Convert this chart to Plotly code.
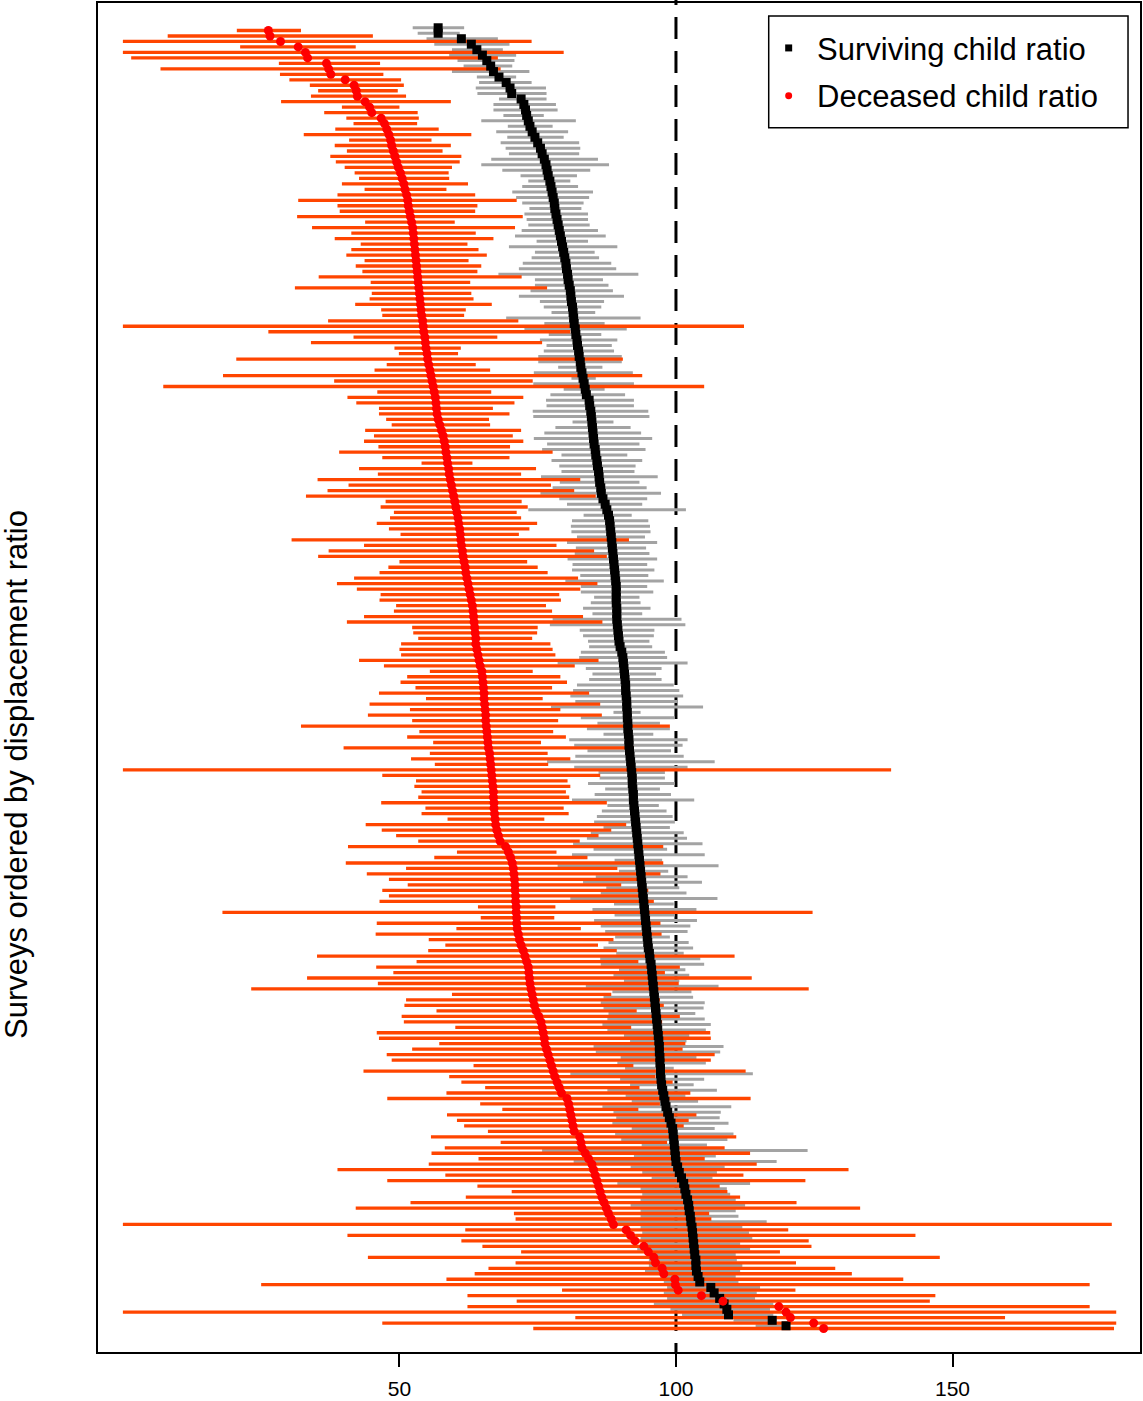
import plotly.graph_objects as go

# Surviving child ratio per survey (point estimate and interval), ordered top to bottom
surv = [57.0, 57.0, 61.2, 63.0, 64.0, 65.0, 65.8, 66.5, 67.0, 68.0, 69.3, 70.0, 70.3, 72.0, 72.5, 72.8,
        73.0, 73.3, 73.6, 74.0, 74.5, 75.0, 75.5, 75.8, 76.2, 76.5, 76.7, 76.9, 77.2, 77.4, 77.6, 77.8,
        78.0, 78.1, 78.3, 78.5, 78.7, 78.9, 79.1, 79.3, 79.5, 79.7, 79.9, 80.1, 80.2, 80.4, 80.5, 80.7,
        80.9, 81.0, 81.1, 81.3, 81.4, 81.5, 81.6, 81.8, 81.9, 82.1, 82.2, 82.4, 82.5, 82.7, 82.8, 83.0,
        83.2, 83.4, 83.6, 83.8, 84.3, 84.4, 84.6, 84.7, 84.8, 84.9, 85.0, 85.1, 85.2, 85.4, 85.5, 85.7,
        85.8, 86.0, 86.1, 86.2, 86.4, 86.5, 86.8, 87.2, 87.5, 87.8, 88.0, 88.1, 88.2, 88.3, 88.4, 88.5,
        88.6, 88.7, 88.8, 88.9, 89.0, 89.1, 89.2, 89.2, 89.2, 89.2, 89.3, 89.3, 89.3, 89.4, 89.5, 89.6,
        89.7, 89.9, 90.2, 90.4, 90.5, 90.6, 90.7, 90.8, 90.9, 90.9, 91.0, 91.1, 91.1, 91.2, 91.2, 91.3,
        91.3, 91.4, 91.5, 91.5, 91.6, 91.7, 91.8, 91.9, 92.0, 92.1, 92.1, 92.2, 92.3, 92.3, 92.4, 92.5,
        92.6, 92.7, 92.8, 92.9, 93.0, 93.1, 93.2, 93.3, 93.4, 93.5, 93.6, 93.7, 93.8, 93.9, 94.0, 94.1,
        94.2, 94.3, 94.4, 94.5, 94.6, 94.7, 94.8, 94.9, 95.0, 95.2, 95.3, 95.5, 95.6, 95.7, 95.8, 95.9,
        96.0, 96.1, 96.2, 96.3, 96.4, 96.5, 96.6, 96.7, 96.8, 96.9, 97.0, 97.0, 97.1, 97.1, 97.2, 97.2,
        97.3, 97.4, 97.6, 97.8, 98.0, 98.2, 98.5, 98.8, 99.1, 99.4, 99.5, 99.6, 99.7, 99.8, 99.9, 100.0,
        100.3, 100.6, 101.0, 101.4, 101.6, 101.8, 102.1, 102.3, 102.4, 102.6, 102.7, 102.9, 103.0, 103.1,
        103.2, 103.3, 103.4, 103.6, 103.6, 103.7, 104.0, 104.3, 106.3, 106.9, 107.9, 108.7, 109.2, 109.5,
        117.4, 119.9]

surv_lo = [52.4, 53.3, 54.9, 56.3, 59.5, 59.0, 60.5, 61.6, 59.5, 64.0, 64.4, 63.8, 64.1, 68.0, 67.0, 67.0,
           68.8, 64.8, 69.6, 67.5, 69.5, 68.3, 69.2, 69.8, 66.6, 64.8, 68.6, 71.9, 73.3, 72.2, 70.4, 71.1,
           72.2, 73.5, 72.6, 73.0, 73.3, 72.1, 70.9, 74.8, 69.8, 74.5, 73.9, 72.3, 71.6, 67.9, 74.5, 74.5,
           73.7, 71.6, 75.4, 76.1, 77.5, 69.3, 76.2, 72.6, 77.0, 75.4, 76.6, 76.1, 75.1, 75.1, 78.7, 74.3,
           81.1, 74.2, 79.7, 77.3, 76.5, 76.6, 74.1, 74.2, 81.3, 78.2, 76.2, 74.3, 76.7, 75.8, 79.3, 77.5,
           78.9, 79.3, 75.6, 79.0, 77.7, 75.5, 78.9, 80.3, 73.3, 83.3, 81.2, 81.0, 81.1, 82.1, 80.3, 81.9,
           81.7, 80.4, 81.3, 81.2, 82.7, 80.0, 82.8, 82.8, 85.2, 84.6, 83.2, 84.9, 77.7, 77.2, 82.6, 83.2,
           84.1, 84.3, 82.8, 82.5, 78.6, 83.7, 84.9, 84.3, 82.1, 81.4, 80.9, 81.8, 77.4, 88.7, 82.8, 85.8,
           83.9, 86.9, 80.7, 81.6, 84.0, 81.8, 76.7, 81.6, 86.0, 86.2, 84.1, 87.2, 85.3, 81.2, 87.6, 86.6,
           85.7, 85.2, 86.9, 84.6, 83.9, 81.4, 85.1, 81.2, 88.9, 78.6, 89.7, 85.5, 83.2, 87.4, 86.4, 80.9,
           88.8, 84.9, 88.9, 85.2, 86.4, 87.2, 89.0, 87.8, 86.9, 89.2, 86.3, 86.4, 89.7, 88.7, 90.6, 83.7,
           88.5, 86.9, 86.4, 86.9, 87.8, 87.6, 86.7, 87.6, 90.6, 91.7, 85.1, 85.5, 90.0, 89.4, 90.8, 80.9,
           89.9, 91.7, 87.6, 90.9, 92.0, 86.7, 88.7, 89.2, 88.5, 92.0, 89.0, 90.1, 93.8, 75.8, 92.4, 81.5,
           91.8, 93.9, 95.6, 89.4, 93.6, 93.9, 93.6, 91.8, 93.6, 93.6, 89.4, 93.6, 93.9, 93.6, 94.2, 93.0,
           96.0, 95.1, 95.1, 94.4, 97.2, 97.8, 98.4, 97.8, 98.4, 96.0, 99.0, 101.1, 110.4, 114.4]

surv_hi = [61.7, 60.9, 67.8, 69.9, 68.7, 71.1, 70.8, 70.4, 73.5, 71.1, 73.9, 76.5, 76.6, 76.6, 78.3, 78.6,
           76.1, 81.9, 77.7, 80.5, 79.7, 82.5, 82.7, 82.5, 85.9, 87.9, 84.5, 82.1, 80.9, 82.3, 85.0, 84.3,
           83.3, 82.9, 84.1, 84.1, 84.4, 85.9, 87.3, 84.1, 89.4, 85.3, 86.1, 88.3, 89.2, 93.2, 86.8, 87.8,
           88.6, 90.6, 87.0, 86.5, 85.4, 93.6, 87.1, 91.1, 86.5, 89.4, 88.4, 88.8, 90.2, 90.2, 86.7, 92.2,
           85.5, 92.4, 87.1, 90.8, 92.4, 92.4, 95.0, 95.2, 88.7, 91.8, 93.7, 95.7, 93.4, 94.5, 91.2, 93.9,
           92.7, 92.5, 96.7, 93.4, 94.7, 97.3, 94.8, 93.9, 101.8, 92.0, 95.0, 95.3, 95.4, 94.4, 96.6, 94.6,
           95.2, 96.6, 94.8, 96.1, 95.0, 97.8, 94.8, 95.9, 93.4, 93.6, 95.4, 93.9, 101.0, 101.7, 96.1, 96.0,
           95.2, 95.7, 98.0, 98.4, 102.1, 97.4, 96.4, 97.4, 99.6, 100.6, 101.3, 100.3, 104.9, 93.6, 99.8, 97.1,
           98.9, 95.9, 102.1, 101.2, 99.1, 101.4, 107.0, 102.1, 98.0, 98.0, 99.8, 97.1, 99.1, 103.3, 96.9, 98.3,
           99.4, 99.8, 98.9, 101.4, 102.0, 104.8, 98.4, 105.2, 97.5, 107.7, 98.6, 102.1, 104.7, 100.6, 101.9, 107.5,
           99.6, 103.7, 99.8, 103.8, 102.6, 102.1, 98.9, 102.3, 103.1, 101.4, 104.4, 105.1, 101.7, 102.4, 100.6, 107.7,
           102.8, 103.1, 105.2, 105.0, 103.5, 105.2, 106.3, 105.4, 102.4, 101.9, 108.6, 108.0, 103.7, 105.4, 99.6, 113.9,
           105.1, 103.2, 107.4, 101.7, 104.0, 110.0, 108.1, 107.9, 109.5, 107.0, 110.4, 109.3, 105.6, 123.8, 107.2, 118.2,
           108.8, 107.4, 106.6, 113.4, 109.2, 109.8, 110.8, 112.5, 110.8, 111.3, 116.4, 112.0, 113.2, 113.8, 111.6, 113.4,
           110.8, 111.0, 112.0, 111.6, 110.8, 111.3, 115.2, 114.6, 114.3, 117.6, 117.0, 117.6, 118.2, 119.4]

# Deceased child ratio per survey (point estimate and interval)
dec = [26.3, 26.6, 28.5, 31.7, 33.0, 33.4, 36.8, 37.2, 37.6, 40.2, 41.8, 42.2, 42.4, 43.8, 44.6, 45.0,
       46.7, 47.3, 47.7, 48.1, 48.4, 48.6, 48.9, 49.2, 49.5, 49.8, 50.2, 50.5, 50.8, 51.0, 51.3, 51.5,
       51.6, 51.8, 52.0, 52.2, 52.4, 52.5, 52.6, 52.7, 52.8, 52.9, 53.0, 53.1, 53.2, 53.3, 53.4, 53.5,
       53.6, 53.7, 53.8, 53.9, 54.0, 54.2, 54.3, 54.4, 54.6, 54.7, 54.8, 55.0, 55.1, 55.3, 55.5, 55.7,
       55.9, 56.1, 56.3, 56.5, 56.6, 56.7, 56.8, 57.0, 57.3, 57.6, 57.9, 58.1, 58.3, 58.4, 58.6, 58.7,
       58.9, 59.0, 59.2, 59.4, 59.6, 59.8, 60.0, 60.2, 60.4, 60.6, 60.7, 60.9, 61.0, 61.1, 61.2, 61.4,
       61.5, 61.7, 61.9, 62.0, 62.2, 62.4, 62.6, 62.8, 63.0, 63.2, 63.3, 63.4, 63.5, 63.6, 63.7, 63.8,
       63.8, 64.0, 64.2, 64.4, 64.6, 64.9, 65.0, 65.1, 65.2, 65.3, 65.3, 65.4, 65.5, 65.6, 65.6, 65.7,
       65.8, 65.9, 66.0, 66.1, 66.3, 66.4, 66.5, 66.6, 66.7, 66.8, 66.9, 67.0, 67.0, 67.1, 67.1, 67.2,
       67.3, 67.4, 67.6, 67.9, 68.2, 69.2, 69.7, 70.1, 70.4, 70.6, 70.7, 70.8, 70.9, 70.9, 71.0, 71.0,
       71.1, 71.1, 71.2, 71.2, 71.3, 71.5, 71.7, 72.0, 72.4, 72.7, 73.0, 73.3, 73.4, 73.5, 73.6, 73.8,
       74.0, 74.2, 74.4, 74.7, 75.2, 75.6, 75.8, 76.0, 76.2, 76.3, 76.6, 76.9, 77.2, 77.5, 77.8, 78.1,
       78.5, 78.9, 79.3, 80.3, 80.6, 80.8, 81.0, 81.2, 81.4, 81.6, 82.6, 82.8, 83.0, 83.6, 84.2, 84.8,
       85.1, 85.4, 85.7, 86.0, 86.3, 86.6, 87.0, 87.4, 87.8, 88.3, 88.7, 91.0, 91.8, 92.6, 94.2, 95.0,
       96.0, 96.3, 97.5, 97.8, 99.8, 99.9, 100.4, 104.6, 108.5, 118.6, 119.9, 120.7, 124.9, 126.7]

dec_lo = [20.6, 8.1, 0.0, 21.2, 0.0, 1.5, 28.2, 6.8, 28.4, 30.1, 33.8, 35.3, 34.0, 28.6, 39.6, 36.4,
          40.4, 41.7, 38.4, 32.7, 40.9, 38.3, 40.5, 37.5, 38.5, 40.1, 41.9, 42.7, 39.6, 43.7, 38.8, 31.7,
          38.8, 39.2, 31.5, 43.8, 34.2, 41.3, 38.3, 43.0, 41.3, 40.4, 43.7, 42.1, 43.3, 35.4, 44.8, 31.1,
          45.0, 44.6, 42.0, 46.7, 46.9, 37.1, 0.0, 26.3, 41.7, 34.0, 49.1, 49.9, 20.5, 47.7, 45.5, 18.1,
          38.2, 7.3, 46.0, 40.6, 42.2, 46.3, 46.3, 47.6, 48.6, 43.8, 45.4, 43.6, 46.2, 39.1, 46.9, 54.0,
          42.7, 46.1, 35.2, 40.8, 37.0, 33.1, 47.5, 46.6, 49.0, 48.3, 45.9, 48.1, 50.2, 30.5, 43.6, 37.2,
          35.3, 50.0, 48.0, 46.4, 41.8, 38.7, 42.3, 46.6, 46.4, 49.4, 49.0, 43.6, 40.5, 52.3, 52.5, 53.4,
          50.3, 50.0, 50.3, 42.7, 47.2, 55.5, 51.4, 50.2, 52.9, 46.3, 54.8, 44.6, 51.9, 44.3, 52.3, 32.2,
          53.6, 51.4, 56.1, 39.9, 55.5, 52.1, 56.4, 0.0, 46.9, 53.0, 52.7, 54.0, 53.4, 46.7, 54.7, 54.0,
          58.7, 43.9, 46.8, 49.4, 53.4, 40.7, 60.4, 56.3, 40.3, 51.2, 44.1, 48.1, 51.5, 46.9, 48.1, 46.4,
          64.2, 18.0, 64.7, 45.9, 60.3, 45.7, 55.3, 58.3, 55.2, 35.1, 53.1, 45.8, 48.9, 33.3, 46.1, 23.2,
          59.5, 51.2, 50.9, 56.7, 50.4, 50.8, 60.1, 45.9, 46.3, 57.2, 52.3, 47.7, 48.6, 63.4, 43.5, 59.0,
          61.2, 65.5, 58.5, 47.8, 64.6, 68.6, 58.6, 60.4, 61.7, 66.0, 55.7, 68.3, 58.2, 55.8, 64.3, 55.3,
          38.8, 58.3, 47.8, 64.1, 70.3, 62.0, 52.0, 42.1, 70.7, 71.0, 0.0, 61.9, 40.6, 61.2, 65.0, 72.0,
          44.3, 71.0, 66.1, 63.6, 58.5, 25.0, 79.4, 62.3, 71.2, 62.3, 0.0, 81.8, 46.9, 74.2]

dec_hi = [32.2, 45.2, 73.9, 42.1, 79.7, 67.8, 46.5, 68.3, 47.1, 50.3, 50.8, 49.7, 51.2, 59.3, 50.0, 53.3,
          53.5, 53.2, 57.1, 63.0, 55.8, 59.3, 57.8, 61.2, 60.9, 59.5, 58.9, 59.0, 62.4, 58.5, 63.7, 71.2,
          64.1, 63.7, 72.3, 60.0, 70.9, 63.8, 67.0, 62.3, 64.3, 65.8, 62.5, 64.8, 64.1, 72.1, 62.8, 76.7,
          63.0, 63.4, 66.7, 62.0, 61.7, 71.5, 112.3, 80.9, 67.7, 75.8, 61.1, 60.6, 90.4, 63.8, 66.4, 93.9,
          74.1, 105.1, 66.6, 72.4, 70.8, 66.9, 69.9, 66.2, 66.4, 72.0, 70.5, 72.4, 70.0, 77.7, 69.9, 63.2,
          74.7, 72.0, 82.7, 77.4, 81.6, 85.5, 72.1, 73.2, 71.2, 72.0, 74.9, 73.5, 71.6, 91.5, 78.4, 85.2,
          87.5, 73.1, 75.0, 76.8, 82.3, 85.8, 82.7, 78.9, 79.2, 76.5, 77.6, 83.2, 86.7, 75.0, 74.9, 74.0,
          77.3, 77.7, 78.2, 86.0, 81.7, 74.1, 79.1, 80.3, 77.6, 84.3, 75.9, 86.3, 79.1, 86.6, 78.7, 98.9,
          77.8, 80.1, 75.6, 92.4, 76.8, 80.9, 76.9, 138.9, 86.3, 80.4, 80.9, 80.1, 80.7, 87.5, 79.7, 80.6,
          76.2, 91.0, 88.3, 86.0, 82.6, 97.7, 78.4, 84.0, 97.7, 89.4, 97.2, 93.0, 90.1, 95.0, 93.5, 96.0,
          78.2, 124.7, 78.0, 97.2, 82.8, 97.4, 88.7, 85.9, 89.3, 110.6, 93.2, 100.7, 98.0, 113.7, 100.5, 124.0,
          88.3, 97.1, 97.8, 92.9, 100.7, 97.5, 91.9, 106.2, 106.3, 101.7, 101.2, 107.0, 106.3, 92.3, 112.6, 96.3,
          99.4, 93.4, 102.6, 113.5, 97.1, 93.2, 103.7, 102.3, 101.4, 98.6, 110.9, 98.4, 108.8, 113.4, 105.2, 114.6,
          131.2, 112.2, 123.4, 107.9, 109.3, 111.6, 121.8, 133.3, 106.0, 106.4, 178.8, 120.3, 143.3, 124.0, 124.5, 118.8,
          147.7, 121.7, 128.8, 131.8, 141.1, 174.8, 121.6, 146.9, 145.9, 174.8, 179.6, 159.5, 179.6, 179.2]

x_ticks = [50, 100, 150]
reference_ratio = 100
y_title = "Surveys ordered by displacement ratio"
legend_labels = ["Surviving child ratio", "Deceased child ratio"]

GREY = "#a3a3a3"
ORANGE = "#ff4500"
RED = "#ff0000"
FONT = "Liberation Sans, Arial, Helvetica, sans-serif"

W, H = 1143, 1401
M_L, M_R, M_T, M_B = 98, 1, 2, 48
PW, PH = W - M_L - M_R, H - M_T - M_B


def px(x):
    return (x - M_L) / PW


def py(y):
    return (H - M_B - y) / PH


n = len(surv)
surv_pos = list(range(n))
dec_pos = [i + 0.5 for i in range(n)]


def segments(lo, hi, pos):
    xs, ys = [], []
    for a, b, p in zip(lo, hi, pos):
        xs += [a, b, None]
        ys += [p, p, None]
    return xs, ys


fig = go.Figure()

gx, gy = segments(surv_lo, surv_hi, surv_pos)
fig.add_trace(go.Scatter(x=gx, y=gy, mode="lines", line=dict(color=GREY, width=3),
                         hoverinfo="skip", showlegend=False))
ox, oy = segments(dec_lo, dec_hi, dec_pos)
fig.add_trace(go.Scatter(x=ox, y=oy, mode="lines", line=dict(color=ORANGE, width=3.3),
                         hoverinfo="skip", showlegend=False))
fig.add_trace(go.Scatter(x=surv, y=surv_pos, mode="markers", name=legend_labels[0],
                         marker=dict(symbol="square", size=9, color="black", line=dict(width=0)),
                         showlegend=False))
fig.add_trace(go.Scatter(x=dec, y=dec_pos, mode="markers", name=legend_labels[1],
                         marker=dict(symbol="circle", size=9, color=RED, line=dict(width=0)),
                         showlegend=False))

shapes = [
    # reference line at ratio 100, drawn beneath the intervals
    dict(type="line", xref="x", yref="paper", x0=reference_ratio, x1=reference_ratio,
         y0=py(-18), y1=py(H - M_B), layer="below",
         line=dict(color="black", width=3, dash="22px,12px")),
    # legend frame
    dict(type="rect", xref="paper", yref="paper", x0=px(770), x1=px(1130), y0=py(127), y1=py(15),
         line=dict(color="black", width=1.5), fillcolor="white", layer="above"),
    dict(type="rect", xref="paper", yref="paper", x0=px(786.5), x1=px(793.5), y0=py(50.5), y1=py(43.5),
         line=dict(width=0), fillcolor="black", layer="above"),
    dict(type="circle", xref="paper", yref="paper", x0=px(786.5), x1=px(793.5), y0=py(98.5), y1=py(91.5),
         line=dict(width=0), fillcolor=RED, layer="above"),
]

annotations = [
    dict(text=legend_labels[0], xref="paper", yref="paper", x=px(816), y=py(49), xanchor="left",
         yanchor="middle", showarrow=False, font=dict(family=FONT, size=31, color="black")),
    dict(text=legend_labels[1], xref="paper", yref="paper", x=px(816), y=py(96), xanchor="left",
         yanchor="middle", showarrow=False, font=dict(family=FONT, size=31, color="black")),
    dict(text=y_title, xref="paper", yref="paper", x=px(17), y=py(775), xanchor="center",
         yanchor="middle", textangle=-90, showarrow=False, font=dict(family=FONT, size=31, color="black")),
]

spacing = 5.485
first_px = 26.8
y_top = -(first_px - M_T) / spacing
y_bottom = (H - M_B - first_px) / spacing

fig.update_layout(
    width=W, height=H, autosize=False,
    margin=dict(l=M_L, r=M_R, t=M_T, b=M_B, pad=0),
    paper_bgcolor="white", plot_bgcolor="white",
    font=dict(family=FONT, color="black"),
    shapes=shapes, annotations=annotations, showlegend=False,
    xaxis=dict(range=[-4.5, 183.9], tickvals=x_ticks, ticktext=[str(t) for t in x_ticks],
               ticks="outside", ticklen=13, tickwidth=1.5, tickcolor="black",
               tickfont=dict(family=FONT, size=21, color="black"), ticklabelstandoff=4,
               showline=True, mirror=True, linecolor="black", linewidth=2,
               showgrid=False, zeroline=False),
    yaxis=dict(range=[y_bottom, y_top], showticklabels=False, ticks="",
               showline=True, mirror=True, linecolor="black", linewidth=2,
               showgrid=False, zeroline=False),
)

fig.write_html("out.html")
